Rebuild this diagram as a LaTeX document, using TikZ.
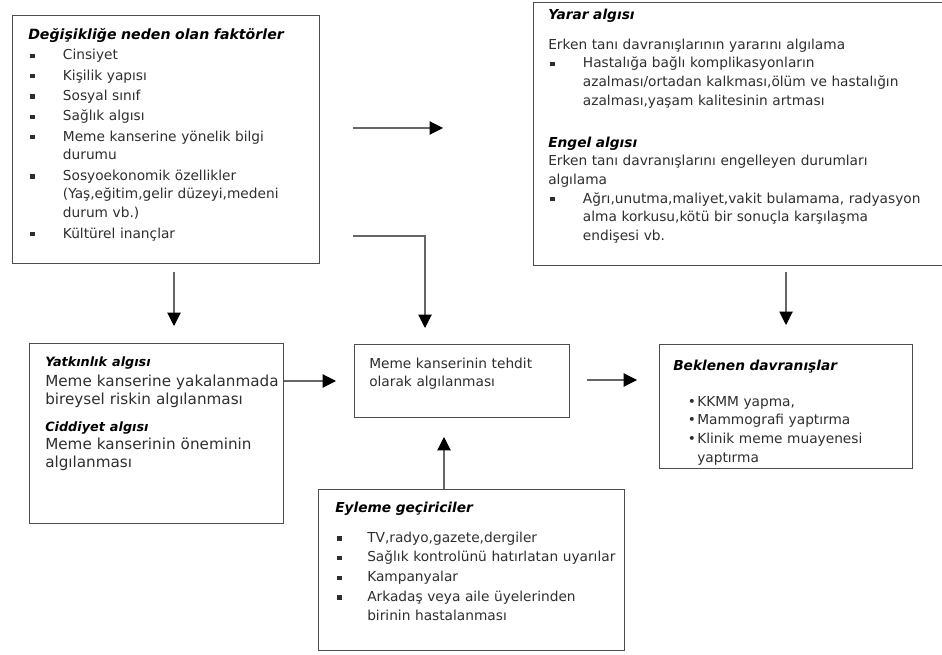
\documentclass[tikz,border=0pt]{standalone}
\usepackage{fontspec}
\setmainfont{DejaVu Sans}
\usetikzlibrary{arrows.meta}

\newcommand\bodyfont{\fontsize{10.3}{14}\selectfont}
\newcommand\bigbodyfont{\fontsize{11.4}{13.6}\selectfont}
\newcommand\ttl[1]{\noindent\strut{\color{black}\bfseries\itshape #1}}
\newcommand\sttl[1]{\noindent\strut{\color{black}\fontsize{9.6}{13.6}\selectfont\bfseries\itshape #1}}
\newcommand\sqbul{\rule[1.3pt]{3.2pt}{3.2pt}}
\newcommand\bitm[2]{\par\noindent\hangindent=#1\hangafter=1\makebox[#1][l]{\hspace{1.5pt}\sqbul}#2\par}
\newcommand\ritm[1]{\par\noindent\hangindent=18pt\hangafter=1\makebox[18pt][l]{\hspace{11pt}\textbullet}#1\par}

\tikzset{
  box/.style={draw=black!70, line width=0.9pt, inner sep=0pt, anchor=north west},
  txt/.style={inner sep=0pt, anchor=north west, align=left, text=black!82, font=\bodyfont},
  arr/.style={draw=black!60, line width=0.8pt, -{Triangle[length=10pt,width=10pt,color=black]}}
}
\newcommand\boxnode[5]{\node[box, minimum width={(#4-#2)*0.75pt}, minimum height={(#5-#3)*0.75pt}] (#1) at (#2,#3) {};}

\begin{document}
\begin{tikzpicture}[x=0.75pt,y=-0.75pt]
\useasboundingbox (0,0) rectangle (942,655);
\clip (0,0) rectangle (942,655);

% boxes
\boxnode{tl}{12}{15}{319}{263}
\boxnode{yarar}{533}{2}{948}{265}
\boxnode{yatk}{29}{343}{283}{523}
\boxnode{tehdit}{354}{344}{569}{417}
\boxnode{bekl}{659}{344}{912}{468}
\boxnode{eyl}{318}{489}{624}{650}

% texts
\node[txt, text width=230pt] (tlt) at (28,25.9) {%
{\fontsize{10.6}{14}\selectfont\ttl{Değişikliğe neden olan faktörler}}\setlength{\parskip}{1.3pt}
\bitm{26pt}{Cinsiyet}
\bitm{26pt}{Kişilik yapısı}
\bitm{26pt}{Sosyal sınıf}
\bitm{26pt}{Sağlık algısı}
\bitm{26pt}{Meme kanserine yönelik bilgi\break durumu}
\bitm{26pt}{Sosyoekonomik özellikler\break (Yaş,eğitim,gelir düzeyi,medeni\break durum vb.)}
\bitm{26pt}{Kültürel inançlar}};

\node[txt, text width=300pt] (yarart) at (548,5.9) {%
\ttl{Yarar algısı}\par\vspace{8.5pt}
\noindent Erken tanı davranışlarının yararını algılama
\bitm{26pt}{Hastalığa bağlı komplikasyonların\break azalması/ortadan kalkması,ölüm ve hastalığın\break azalması,yaşam kalitesinin artması}
\vspace{17.5pt}
\ttl{Engel algısı}
\par\noindent Erken tanı davranışlarını engelleyen durumları\break algılama
\bitm{26pt}{Ağrı,unutma,maliyet,vakit bulamama, radyasyon\break alma korkusu,kötü bir sonuçla karşılaşma\break endişesi vb.}};

\node[txt, font=\bigbodyfont, text width=195pt] (yatkt) at (45,353.4) {%
\sttl{Yatkınlık algısı}\par\vspace{1.5pt}
\noindent Meme kanserine yakalanmada\break bireysel riskin algılanması\par\vspace{6.5pt}
\sttl{Ciddiyet algısı}\par
\noindent Meme kanserinin öneminin\break algılanması\par};

\node[txt, text width=150pt] (tehditt) at (369,354.9) {%
\strut Meme kanserinin tehdit\break olarak algılanması\par};

\node[txt, text width=180pt] (beklt) at (673,356.9) {%
\ttl{Beklenen davranışlar}\par\vspace{13pt}
\ritm{KKMM yapma,}
\ritm{Mammografi yaptırma}
\ritm{Klinik meme muayenesi\break yaptırma}};

\node[txt, text width=220pt] (eylt) at (335,498.9) {%
\ttl{Eyleme geçiriciler}\par\vspace{7.7pt}\setlength{\parskip}{0.8pt}
\bitm{24pt}{TV,radyo,gazete,dergiler}
\bitm{24pt}{Sağlık kontrolünü hatırlatan uyarılar}
\bitm{24pt}{Kampanyalar}
\bitm{24pt}{Arkadaş veya aile üyelerinden\break birinin hastalanması}};

% connectors
\coordinate (a1s) at (353,128);
\coordinate (a1e) at (443,128);
\draw[arr] (a1s) -- (a1e);

\coordinate (a2s) at (353,236);
\coordinate (a2e) at (425,328);
\draw[arr] (a2s) -| (a2e);

\coordinate (a3s) at (174,272);
\coordinate (a3e) at (174,326);
\draw[arr] (a3s) -- (a3e);

\coordinate (a4e) at (336,381);
\draw[arr] (a4e -| yatk.east) -- (a4e);

\coordinate (a5s) at (786,272);
\coordinate (a5e) at (786,325);
\draw[arr] (a5s) -- (a5e);

\coordinate (a6s) at (587,380);
\coordinate (a6e) at (637,380);
\draw[arr] (a6s) -- (a6e);

\coordinate (a7e) at (444,437);
\draw[arr] (a7e |- eyl.north) -- (a7e);
\end{tikzpicture}
\end{document}
